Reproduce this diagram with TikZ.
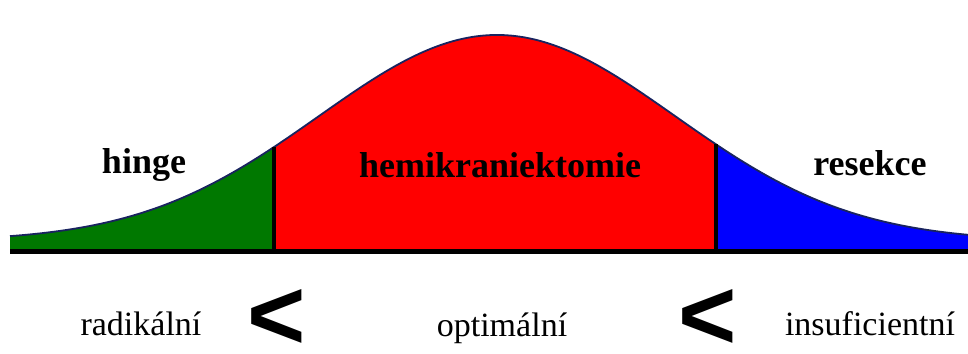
\documentclass[tikz,border=0pt]{standalone}
\usepackage{fontspec}
\setmainfont{Liberation Serif}
\newfontfamily\lessfont{Liberation Sans}
\begin{document}
\begin{tikzpicture}[
  x=1pt, y=-1pt,
  declare function={bell(\t)=249-8-206*exp(-0.5*((\t-497)/178)^2);},
  % Area fills under the curve
  leftarea/.style={fill={rgb,255:red,0;green,120;blue,0}},
  midarea/.style={fill={rgb,255:red,255;green,0;blue,0}},
  rightarea/.style={fill={rgb,255:red,0;green,0;blue,255}},
  % Lines
  curveline/.style={draw={rgb,255:red,25;green,35;blue,95}, line width=1.8pt, line join=round},
  divider/.style={draw=black, line width=4pt},
  axisline/.style={draw=black, line width=5pt},
  % Text styles
  toplabel/.style={anchor=base, inner sep=0pt, font=\fontsize{36}{40}\selectfont\bfseries},
  bottomlabel/.style={anchor=base, inner sep=0pt, font=\fontsize{34}{38}\selectfont},
  lessthan/.style={anchor=center, inner sep=0pt, font=\lessfont\bfseries\fontsize{100}{100}\selectfont, xscale=1.0}
]
\useasboundingbox (0,0) rectangle (968,353);

% Layer 1: Coloured areas
\fill[leftarea] (10,249) -- plot[domain=10:274, samples=60] (\x,{bell(\x)}) -- (274,249) -- cycle;
\fill[midarea] (274,249) -- plot[domain=274:716, samples=100] (\x,{bell(\x)}) -- (716,249) -- cycle;
\fill[rightarea] (716,249) -- plot[domain=716:968, samples=60] (\x,{bell(\x)}) -- (968,249) -- cycle;

% Layer 2: Curve outline, dividers and axis
\draw[curveline] plot[domain=10:968, samples=200] (\x,{bell(\x)});
\draw[divider] (274,251) -- (274,{bell(274)});
\draw[divider] (716,251) -- (716,{bell(716)});
\draw[axisline] (10,251) -- (968,251);

% Layer 3: Labels above the axis
\node[toplabel] (hinge) at (144,173) {hinge};
\node[toplabel] (hemi) at (500,177) {hemikraniektomie};
\node[toplabel] (resekce) at (870,175) {resekce};

% Layer 4: Labels below the axis
\node[bottomlabel] (radikal) at (141,335) {radikální};
\node[bottomlabel] (optimal) at (502,336) {optimální};
\node[bottomlabel] (insuf) at (870,335) {insuficientní};
\node[lessthan] (lessA) at (277,319) {<};
\node[lessthan] (lessB) at (708,319) {<};

\end{tikzpicture}
\end{document}
